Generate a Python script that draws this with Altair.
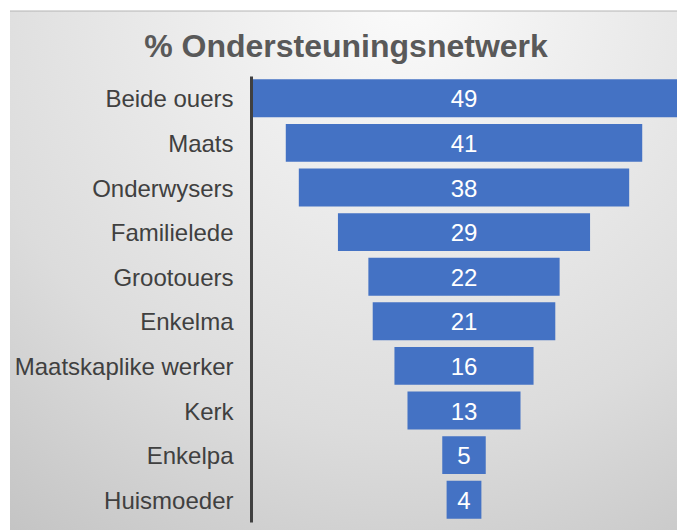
import altair as alt
import pandas as pd

categories = ["Beide ouers", "Maats", "Onderwysers", "Familielede", "Grootouers",
              "Enkelma", "Maatskaplike werker", "Kerk", "Enkelpa", "Huismoeder"]
values = [49, 41, 38, 29, 22, 21, 16, 13, 5, 4]
title_text = "% Ondersteuningsnetwerk"

df = pd.DataFrame({"cat": categories, "val": values})

W, H = 426, 446
FONT = "Liberation Sans"

ysc = alt.Scale(domain=categories, paddingInner=0.15, paddingOuter=0.075)
xsc = alt.Scale(domain=[-24.5, 24.5], nice=False, zero=False)

bg = alt.Chart(pd.DataFrame({"a": [0]})).mark_rect(
    clip=False,
    color=alt.Gradient(
        gradient="radial",
        x1=0.58, y1=0.08, r1=0,
        x2=0.58, y2=0.08, r2=1.1,
        stops=[alt.GradientStop(offset=0, color="#fbfbfb"),
               alt.GradientStop(offset=0.6, color="#dcdcdc"),
               alt.GradientStop(offset=1, color="#bcbcbc")],
    ),
).encode(x=alt.value(-241), x2=alt.value(W + 10), y=alt.value(-65), y2=alt.value(H + 12))

topline = alt.Chart(pd.DataFrame({"a": [0]})).mark_rule(
    clip=False, color="#b4b4b4", strokeWidth=1
).encode(x=alt.value(-241), x2=alt.value(W + 10), y=alt.value(-65))

title = alt.Chart(pd.DataFrame({"t": [title_text]})).mark_text(
    clip=False, fontSize=32, font=FONT, fontWeight="bold", color="#595959",
    align="center", baseline="alphabetic",
).encode(x=alt.value(95), y=alt.value(-19), text="t:N")

base = alt.Chart(df).transform_calculate(lo="-datum.val/2", hi="datum.val/2")

bars = base.mark_bar(color="#4472C4").encode(
    y=alt.Y("cat:N", scale=ysc, sort=categories,
            axis=alt.Axis(title=None, ticks=False, labelFontSize=24, labelFont=FONT,
                          labelColor="#404040", labelPadding=18, domainColor="#404040",
                          domainWidth=3, labelLimit=300, labelOffset=2, zindex=1)),
    x=alt.X("lo:Q", scale=xsc, axis=None),
    x2="hi:Q",
)

texts = base.mark_text(color="white", fontSize=24, font=FONT, dy=2).encode(
    y=alt.Y("cat:N", scale=ysc, sort=categories),
    x=alt.value(W / 2),
    text="val:Q",
)

chart = alt.layer(bg, topline, title, bars, texts).properties(
    width=W, height=H,
    padding={"left": 243, "top": 68, "right": 0, "bottom": 8},
    autosize=alt.AutoSizeParams(type="none"),
).configure_view(stroke=None).configure(background="white")

chart.save("out.html", embed_options={"renderer": "svg", "actions": False})
